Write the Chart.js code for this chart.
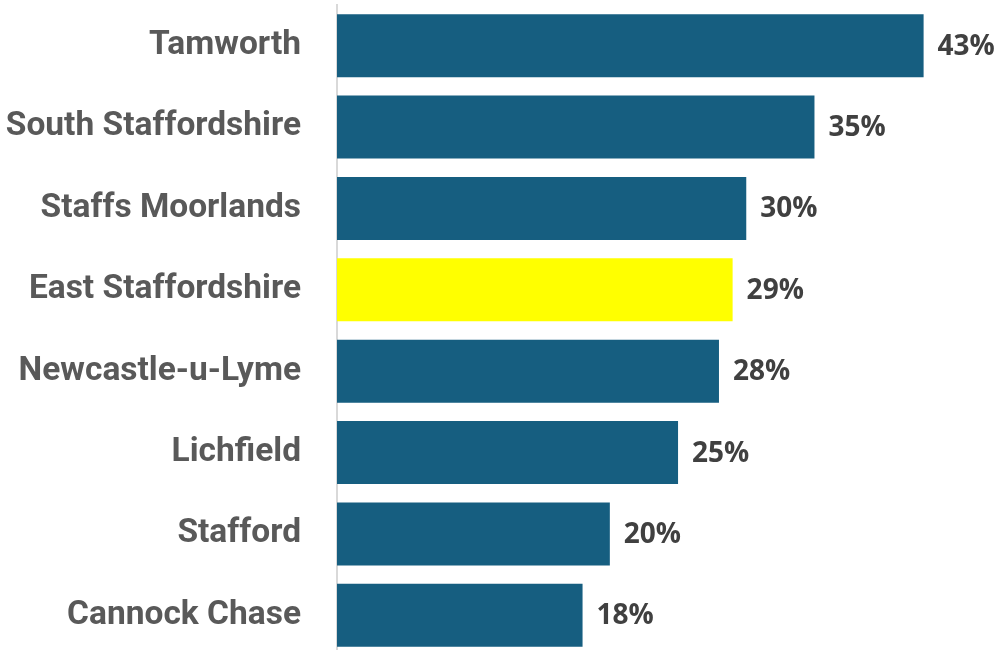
<!DOCTYPE html>
<html>
<head>
<meta charset="utf-8">
<script src="https://cdn.jsdelivr.net/npm/chart.js@4.4.1/dist/chart.umd.min.js"></script>
<style>
html,body{margin:0;padding:0;background:#fff;overflow:hidden;}
#wrap{width:1000px;height:656px;position:relative;}
</style>
</head>
<body>
<div id="wrap"><canvas id="c" width="1000" height="656"></canvas></div>
<script>
const categories = ["Tamworth","South Staffordshire","Staffs Moorlands","East Staffordshire","Newcastle-u-Lyme","Lichfield","Stafford","Cannock Chase"];
const values = [43, 35, 30, 29, 28, 25, 20, 18];
const highlight = "East Staffordshire";
const valueLabels = values.map(v => v + "%");

const barColors = categories.map(c => c === highlight ? "#ffff00" : "#165e80");

const valueLabelPlugin = {
  id: "valueLabels",
  afterDatasetsDraw(chart) {
    const ctx = chart.ctx;
    const meta = chart.getDatasetMeta(0);
    ctx.save();
    ctx.font = "bold 28px 'Open Sans'";
    ctx.fillStyle = "#404040";
    ctx.textAlign = "left";
    ctx.textBaseline = "middle";
    meta.data.forEach((bar, i) => {
      ctx.fillText(valueLabels[i], bar.x + 14, bar.y + 1);
    });
    ctx.restore();
  }
};

function draw() {
  new Chart(document.getElementById("c"), {
    type: "bar",
    data: {
      labels: categories,
      datasets: [{
        data: values,
        backgroundColor: barColors,
        borderWidth: 0,
        barPercentage: 0.774,
        categoryPercentage: 1.0
      }]
    },
    options: {
      indexAxis: "y",
      responsive: false,
      animation: false,
      layout: { padding: { top: 5, bottom: 0, left: 0, right: 0 } },
      plugins: { legend: { display: false }, tooltip: { enabled: false } },
      scales: {
        x: { display: false, min: 0, max: 48.6 },
        y: {
          afterFit(scale) { scale.width = 337; scale.paddingTop = 0; scale.paddingBottom = 0; },
          grid: { display: false, drawTicks: false },
          border: { display: true, color: "#d9d9d9", width: 2 },
          ticks: {
            autoSkip: false,
            padding: 36,
            color: "#595959",
            font: { family: "Roboto", weight: "bold", size: 33.5 }
          }
        }
      }
    },
    plugins: [valueLabelPlugin]
  });
}

Promise.all([
  document.fonts.load("bold 28px 'Open Sans'"),
  document.fonts.load("bold 33px Roboto")
]).then(draw, draw);
</script>
</body>
</html>
